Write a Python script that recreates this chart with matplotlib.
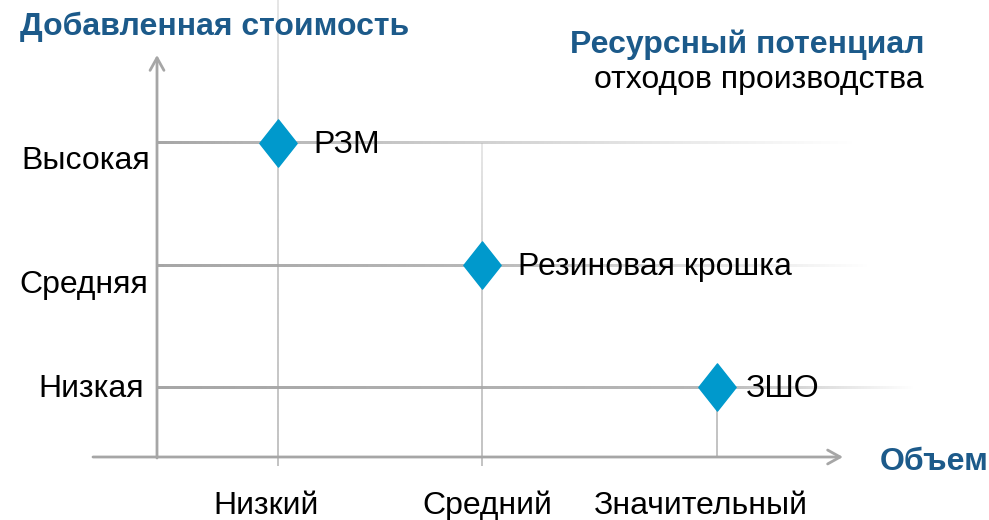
import numpy as np
import matplotlib
matplotlib.use('Agg')
import matplotlib.pyplot as plt
from matplotlib.path import Path

plt.rcParams['font.family'] = ['Liberation Sans', 'DejaVu Sans']

# данные
wastes = ['РЗМ', 'Резиновая крошка', 'ЗШО']
waste_volume = ['Низкий', 'Средний', 'Значительный']
waste_value = ['Высокая', 'Средняя', 'Низкая']
volume_levels = ['Низкий', 'Средний', 'Значительный']
value_levels = ['Низкая', 'Средняя', 'Высокая']

title_y = 'Добавленная стоимость'
title_x = 'Объем'
title_main = 'Ресурсный потенциал'
subtitle_main = 'отходов производства'

# раскладка
XLIM = (-1.3627, 3.485)
YLIM = (-1.090, 3.172)
px_x = (XLIM[1] - XLIM[0]) / 989   # единиц данных на пиксель
px_y = (YLIM[1] - YLIM[0]) / 520
vol_pos = {'Низкий': 0.0, 'Средний': 1.0, 'Значительный': 2.15}
val_pos = {v: i for i, v in enumerate(value_levels)}
x_axis_at = -0.593   # положение оси Y (в координатах x)
y_axis_at = -0.574   # положение оси X (в координатах y)
hline_end = {'Высокая': 2.83, 'Средняя': 2.90, 'Низкая': 3.12}
vline_top = {'Низкий': 3.2, 'Средний': 2.0, 'Значительный': 0.0}

blue = '#0099CC'
dark_blue = '#1C5A8A'
gray = '#A6A6A6'
FS = 23


def fade_band(ax, x0, x1, y0, y1, stops, alphas, color, horizontal=True, n=400):
    t = np.linspace(0, 1, n)
    a = np.interp(t, stops, alphas)
    rgba = np.zeros((1, n, 4)) if horizontal else np.zeros((n, 1, 4))
    rgb = matplotlib.colors.to_rgb(color)
    if horizontal:
        rgba[0, :, :3] = rgb
        rgba[0, :, 3] = a
    else:
        rgba[:, 0, :3] = rgb
        rgba[:, 0, 3] = a[::-1]
    ax.imshow(rgba, extent=[x0, x1, y0, y1], aspect='auto', interpolation='bilinear',
              origin='upper', zorder=2)


fig = plt.figure(figsize=(9.89, 5.2), dpi=100)
ax = fig.add_axes([0, 0, 1, 1])
ax.axis('off')

for name, vol, val in zip(wastes, waste_volume, waste_value):
    xd, yd = vol_pos[vol], val_pos[val]
    # горизонтальная линия уровня стоимости
    xe = hline_end[val]
    f = (xd - x_axis_at) / (xe - x_axis_at)
    h = 1.5 * px_y
    fade_band(ax, x_axis_at, xe, yd - h, yd + h, [0, f, 1], [1, 0.8, 0], gray)
    # вертикальная линия объема
    w = 0.8 * px_x
    top = vline_top[vol]
    if top > yd:
        y0 = y_axis_at - 0.07
        fade_band(ax, xd - w, xd + w, y0, top, [0, (yd - y0) / (top - y0), 1],
                  [0.75, 0.6, 0.3], '#B0B0B0', horizontal=False)
    else:
        fade_band(ax, xd - w, xd + w, y_axis_at, yd, [0, 1], [0.75, 0.75],
                  '#B0B0B0', horizontal=False)

# оси со стрелками
arrow = dict(arrowstyle='->,head_length=0.9,head_width=0.5', color=gray, lw=2, shrinkA=0, shrinkB=0)
ax.annotate('', xy=(157 / 989, 1 - 55 / 520), xytext=(157 / 989, 1 - 458 / 520),
            xycoords='axes fraction', arrowprops=arrow)
ax.annotate('', xy=(843 / 989, 63 / 520), xytext=(93 / 989, 63 / 520),
            xycoords='axes fraction', arrowprops=arrow)

# ромбы и подписи отходов
diamond = Path([(0, 1), (0.79, 0), (0, -1), (-0.79, 0), (0, 1)],
               [Path.MOVETO, Path.LINETO, Path.LINETO, Path.LINETO, Path.CLOSEPOLY])
label_dx = {'РЗМ': 35, 'Резиновая крошка': 36, 'ЗШО': 29}
for name, vol, val in zip(wastes, waste_volume, waste_value):
    xd, yd = vol_pos[vol], val_pos[val]
    ax.plot(xd, yd, marker=diamond, ms=34, color=blue, mec=blue, zorder=4)
    ax.annotate(name, xy=(xd, yd), xytext=(label_dx[name], -2), textcoords='offset pixels',
                ha='left', va='center', fontsize=FS, color='black', zorder=5)

# подписи уровней
ylab_x = {'Высокая': 150, 'Средняя': 148, 'Низкая': 144}
ylab_dy = {'Высокая': -18, 'Средняя': -20, 'Низкая': -2}
for lev in value_levels:
    ax.annotate(lev, xy=(ylab_x[lev] / 989, val_pos[lev]), xycoords=('axes fraction', 'data'),
                xytext=(0, ylab_dy[lev]), textcoords='offset pixels',
                ha='right', va='center', fontsize=FS)
xlab_dx = {'Низкий': -12, 'Средний': 5, 'Значительный': -16}
for lev in volume_levels:
    ax.annotate(lev, xy=(vol_pos[lev], 1 - 506 / 520), xycoords=('data', 'axes fraction'),
                xytext=(xlab_dx[lev], 0), textcoords='offset pixels',
                ha='center', va='center', fontsize=FS)

# заголовки
fig.text(20 / 989, 1 - 27 / 520, title_y, ha='left', va='center', fontsize=FS,
         fontweight='bold', color=dark_blue)
fig.text(924 / 989, 1 - 45 / 520, title_main, ha='right', va='center', fontsize=FS,
         fontweight='bold', color=dark_blue)
fig.text(924 / 989, 1 - 80 / 520, subtitle_main, ha='right', va='center', fontsize=FS,
         color='black')
fig.text(880 / 989, 1 - 462 / 520, title_x, ha='left', va='center', fontsize=FS,
         fontweight='bold', color=dark_blue)

ax.set_xlim(*XLIM)
ax.set_ylim(*YLIM)
fig.savefig('out.png', dpi=100, facecolor='white')
